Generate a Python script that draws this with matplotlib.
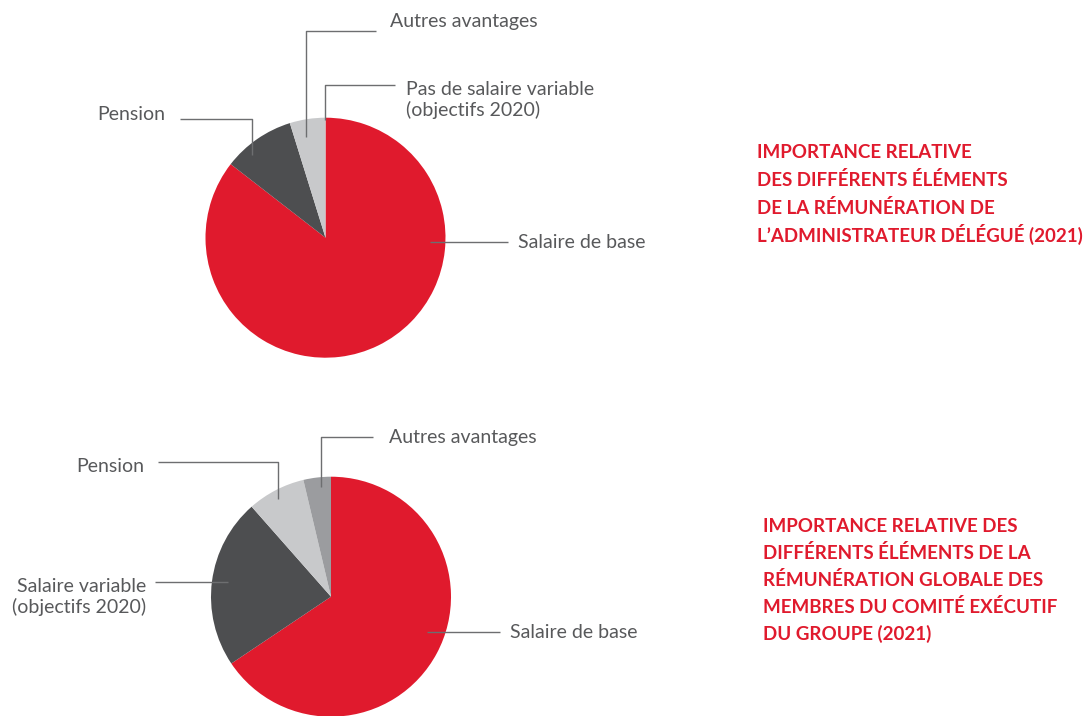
import matplotlib
matplotlib.use("Agg")
import matplotlib.pyplot as plt

# ---- data ----
top_labels = ["Salaire de base", "Pension", "Autres avantages", "Pas de salaire variable\n(objectifs 2020)"]
top_values = [85.5, 9.7, 4.8, 0.0]
bottom_labels = ["Salaire de base", "Salaire variable\n(objectifs 2020)", "Pension", "Autres avantages"]
bottom_values = [65.6, 22.9, 7.8, 3.7]
top_title = ["IMPORTANCE RELATIVE", "DES DIFFÉRENTS ÉLÉMENTS", "DE LA RÉMUNÉRATION DE",
             "L\u2019ADMINISTRATEUR DÉLÉGUÉ (2021)"]
bottom_title = ["IMPORTANCE RELATIVE DES", "DIFFÉRENTS ÉLÉMENTS DE LA", "RÉMUNÉRATION GLOBALE DES",
                "MEMBRES DU COMITÉ EXÉCUTIF", "DU GROUPE (2021)"]

RED = "#E01A2D"
DARK = "#4D4E50"
LIGHT = "#C8C9CB"
MID = "#9B9C9F"
TXT = "#58595B"
LINE = "#6D6E70"

W, H = 1087, 716
fig = plt.figure(figsize=(W / 100, H / 100), dpi=100)
ax = fig.add_axes([0, 0, 1, 1])

def Y(y):
    return H - y

ax.pie(top_values, colors=[RED, DARK, LIGHT, MID], startangle=90, counterclock=False,
       center=(325.5, Y(237.7)), radius=120, wedgeprops=dict(linewidth=0))
ax.pie(bottom_values, colors=[RED, DARK, LIGHT, MID], startangle=90, counterclock=False,
       center=(331, Y(596.7)), radius=120, wedgeprops=dict(linewidth=0))

ax.set_xlim(0, W)
ax.set_ylim(0, H)
ax.set_aspect("equal")
ax.axis("off")

def leader(pts):
    xs = [p[0] for p in pts]
    ys = [Y(p[1]) for p in pts]
    ax.plot(xs, ys, color=LINE, lw=1.0, solid_capstyle="butt", zorder=5)

LF = dict(family="Lato", fontsize=14, color=TXT, linespacing=1.25)

# top pie leaders
leader([(180, 119.3), (252.3, 119.3), (252.3, 155)])
ax.text(165, Y(115), top_labels[1], ha="right", va="center", **LF)
leader([(376, 31), (306, 31), (306, 136.7)])
ax.text(390, Y(21), top_labels[2], ha="left", va="center", **LF)
leader([(395, 85), (325, 85), (325, 120)])
ax.text(406, Y(100), top_labels[3], ha="left", va="center", **LF)
leader([(430, 242), (508, 242)])
ax.text(518, Y(243), top_labels[0], ha="left", va="center", **LF)

# bottom pie leaders
leader([(373, 436.7), (321, 436.7), (321, 486.7)])
ax.text(389, Y(437.5), bottom_labels[3], ha="left", va="center", **LF)
leader([(158, 462.3), (278.3, 462.3), (278.3, 499)])
ax.text(144, Y(466.5), bottom_labels[2], ha="right", va="center", **LF)
leader([(155, 581.7), (228, 581.7)])
ax.text(146, Y(597), bottom_labels[1], ha="right", va="center", **LF)
leader([(426.7, 631.7), (500, 631.7)])
ax.text(510, Y(633), bottom_labels[0], ha="left", va="center", **LF)

TF = dict(family="Lato", fontsize=13.5, fontweight="bold", color=RED)
for i, line in enumerate(top_title):
    ax.text(757, Y(158.5 + i * 27.8), line, ha="left", va="baseline", **TF)
for i, line in enumerate(bottom_title):
    ax.text(763, Y(532 + i * 27), line, ha="left", va="baseline", **TF)

fig.savefig("out.png", dpi=100)
